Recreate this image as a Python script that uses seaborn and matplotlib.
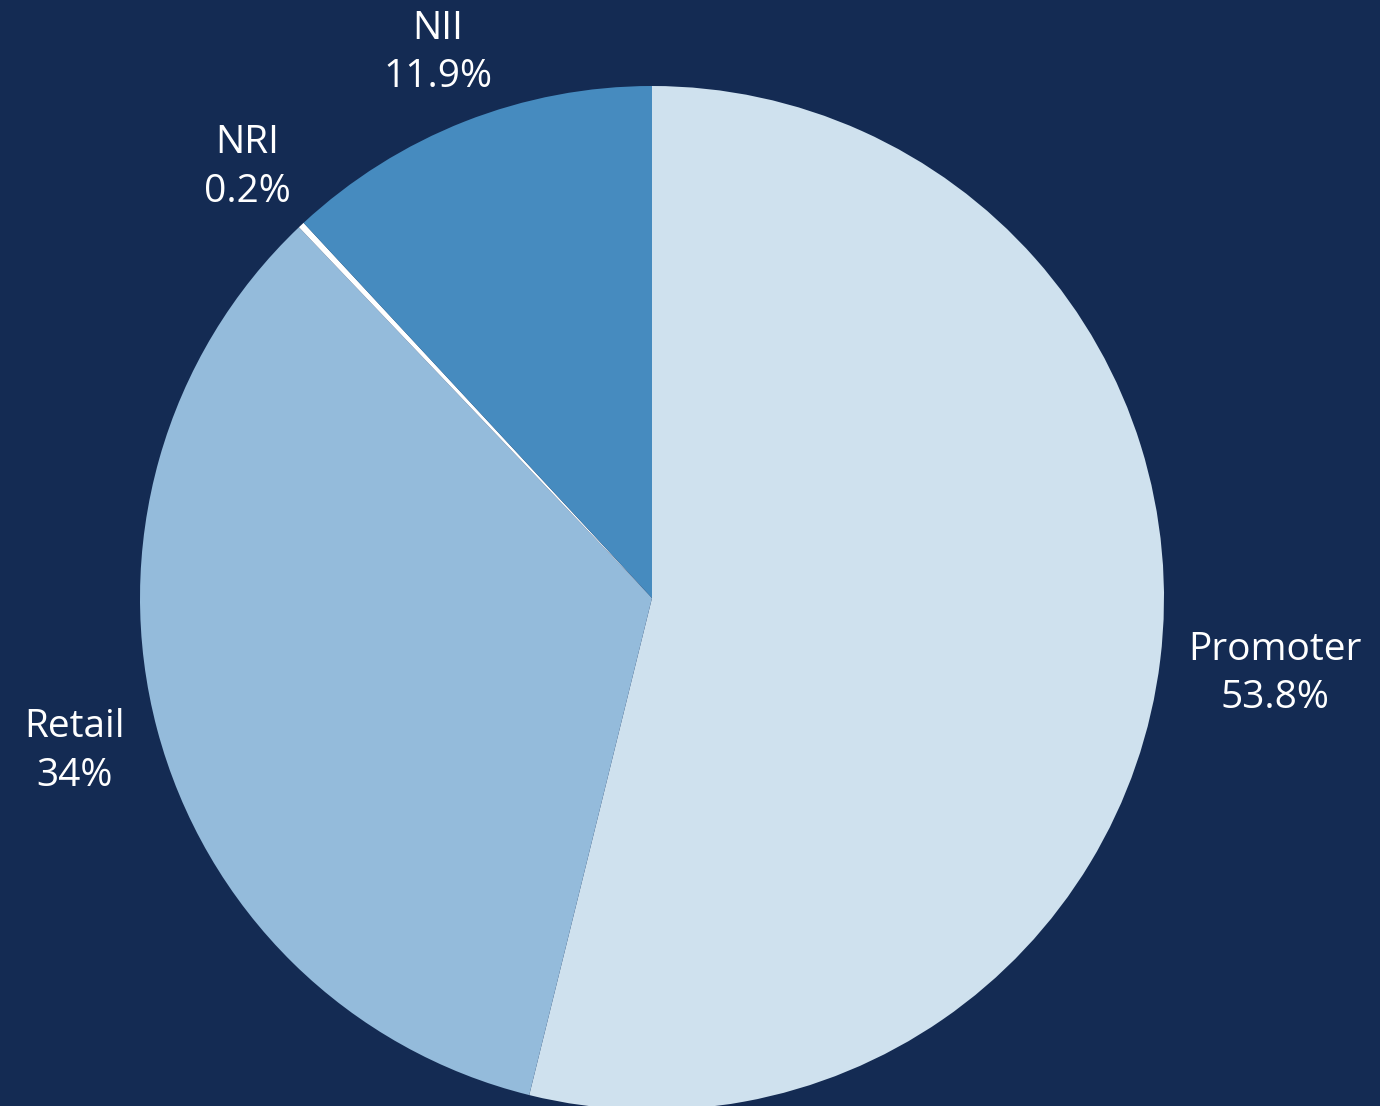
import matplotlib
matplotlib.use("Agg")
import numpy as np
import matplotlib.pyplot as plt
import seaborn as sns

# shareholding pattern
categories = ["Promoter", "Retail", "NRI", "NII"]
shares = [53.8, 34.0, 0.2, 11.9]
share_labels = ["53.8%", "34%", "0.2%", "11.9%"]
colors = ["#cfe1ee", "#94bbdb", "#ffffff", "#468bbf"]

# how far out each label sits (in pie radii)
label_dist = [1.225, 1.167, 1.154, 1.144]

bg = "#142b53"

sns.set_theme(style="white")
plt.rcParams["font.family"] = ["Open Sans", "DejaVu Sans"]

fig = plt.figure(figsize=(13.8, 11.06), dpi=100, facecolor=bg)
ax = fig.add_axes([0, 0, 1, 1])
ax.set_facecolor(bg)

wedges, _ = ax.pie(
    shares,
    colors=colors,
    startangle=90,
    counterclock=False,
    radius=1.0,
    wedgeprops=dict(linewidth=0),
)

for w, c, s, d in zip(wedges, categories, share_labels, label_dist):
    mid = np.deg2rad((w.theta1 + w.theta2) / 2)
    ax.text(d * np.cos(mid), d * np.sin(mid), f"{c}\n{s}",
            ha="center", va="center", color="white", fontsize=28,
            linespacing=1.36)

# px -> data: centre at (652, 598), radius 512 px
ax.set_xlim(-652 / 512, (1380 - 652) / 512)
ax.set_ylim(-(1106 - 598) / 512, 598 / 512)
ax.set_aspect("equal")
ax.axis("off")

fig.savefig("out.png", dpi=100, facecolor=bg)
